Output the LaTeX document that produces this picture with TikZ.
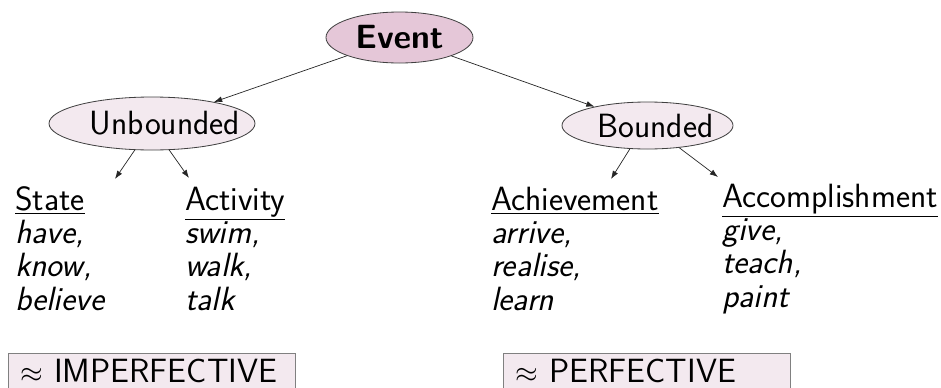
\documentclass[tikz,border=0pt]{standalone}
\usepackage{fontspec}
\usetikzlibrary{shapes.geometric, arrows.meta}
\renewcommand{\familydefault}{\sfdefault}
\definecolor{eventpink}{RGB}{229,199,216}
\definecolor{lightpink}{RGB}{243,233,239}

\begin{document}
\begin{tikzpicture}[
    x=0.03cm, y=-0.03cm,
    >={Latex[length=7pt,width=5pt]},
    font=\fontsize{28.7}{28.2}\selectfont,
    kind/.style={draw=black!75, line width=0.7pt, ellipse, inner sep=0pt},
    col/.style={anchor=base west, align=left, inner sep=0pt},
    aspect/.style={draw=black!50, line width=0.7pt, fill=lightpink, anchor=north west, text width=7.89cm, inner xsep=0.36cm, inner ysep=0pt, minimum height=1.08cm, align=left},
    arr/.style={->, black!85, line width=0.6pt},
]
    \useasboundingbox (0,0) rectangle (941,387);

    % Event types
    \node[kind, fill=eventpink, minimum width=4.41cm, minimum height=1.53cm] (event) at (399.5,37.5) {\bfseries Event};
    \node[kind, fill=lightpink, minimum width=6.18cm, minimum height=1.59cm] (unb) at (152,123.5) {\makebox[0pt]{\hspace*{0.78cm}Unbounded}};
    \node[kind, fill=lightpink, minimum width=5.13cm, minimum height=1.41cm] (bnd) at (647.5,125.5) {\makebox[0pt]{\hspace*{0.48cm}Bounded}};

    \draw[arr] (event) -- (unb);
    \draw[arr] (event) -- (bnd);

    % Classes with examples (base = last line)
    \node[col] (state) at (15,310) {\underline{State}\\\textit{have,}\\\textit{know,}\\\textit{believe}};
    \node[col] (act) at (185,310) {\underline{Activity}\\\textit{swim,}\\\textit{walk,}\\\textit{talk}};
    \node[col] (ach) at (491,310) {\underline{Achievement}\\\textit{arrive,}\\\textit{realise,}\\\textit{learn}};
    \node[col] (acc) at (722,307) {\underline{Accomplishment}\\\textit{give,}\\\textit{teach,}\\\textit{paint}};

    \coordinate (tState) at (115,179);
    \coordinate (tAct) at (189,178);
    \coordinate (tAch) at (611,179);
    \coordinate (tAcc) at (718,177);
    \draw[arr] (unb.237) -- (tState);
    \draw[arr] (unb.303) -- (tAct);
    \draw[arr] (bnd.233) -- (tAch);
    \draw[arr] (bnd.325) -- (tAcc);

    % Aspect
    \node[aspect] (imperf) at (8,353) {$\approx$ IMPERFECTIVE};
    \node[aspect] (perf) at (503,353) {$\approx$ PERFECTIVE};
\end{tikzpicture}
\end{document}
